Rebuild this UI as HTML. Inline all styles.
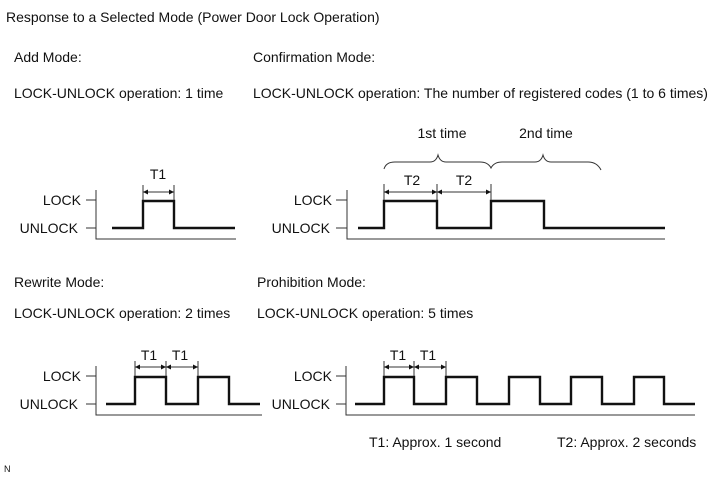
<!DOCTYPE html>
<html><head><meta charset="utf-8"><style>
html,body{margin:0;padding:0;background:#fff}
svg{display:block}
text{font-family:"Liberation Sans",Arial,sans-serif;font-size:14px;fill:#111}
.s{stroke:#111;stroke-width:2.4;fill:none;stroke-linejoin:miter}
.a{stroke:#333;stroke-width:1;fill:none}
</style></head><body>
<svg width="711" height="479" viewBox="0 0 711 479" xmlns="http://www.w3.org/2000/svg">
<defs>
<marker id="ar" viewBox="0 0 10 10" refX="10" refY="5" markerWidth="7" markerHeight="5" orient="auto-start-reverse" markerUnits="userSpaceOnUse"><path d="M0,0 L10,5 L0,10 z" fill="#111"/></marker>
</defs>
<text x="6" y="22">Response to a Selected Mode (Power Door Lock Operation)</text>
<text x="14" y="62">Add Mode:</text>
<text x="14" y="98">LOCK-UNLOCK operation: 1 time</text>
<text x="253" y="62">Confirmation Mode:</text>
<text x="253" y="98">LOCK-UNLOCK operation: The number of registered codes (1 to 6 times)</text>
<text x="14" y="287">Rewrite Mode:</text>
<text x="14" y="318">LOCK-UNLOCK operation: 2 times</text>
<text x="257" y="287">Prohibition Mode:</text>
<text x="257" y="318">LOCK-UNLOCK operation: 5 times</text>

<!-- Add mode -->
<g>
<text x="81" y="205" text-anchor="end">LOCK</text>
<text x="78" y="233" text-anchor="end">UNLOCK</text>
<path class="a" d="M86,200H96 M86,228H96 M96,190V239H236"/>
<path class="s" d="M112,228H143V201H174V228H235"/>
<path class="a" d="M143,185V200 M174,185V200"/>
<line class="a" x1="143" y1="192" x2="174" y2="192" marker-start="url(#ar)" marker-end="url(#ar)"/>
<text x="158" y="179" text-anchor="middle">T1</text>
</g>

<!-- Confirmation -->
<g>
<text x="332" y="205" text-anchor="end">LOCK</text>
<text x="330" y="233" text-anchor="end">UNLOCK</text>
<path class="a" d="M336,200H347 M336,228H347 M347,190V239H665"/>
<path class="s" d="M358,228H384V201H437V228H491V201H544V228H665"/>
<path class="a" d="M384,184V200 M437,184V200 M491,184V200"/>
<line class="a" x1="384" y1="192" x2="437" y2="192" marker-start="url(#ar)" marker-end="url(#ar)"/>
<line class="a" x1="437" y1="192" x2="491" y2="192" marker-start="url(#ar)" marker-end="url(#ar)"/>
<text x="412" y="185" text-anchor="middle">T2</text>
<text x="464" y="185" text-anchor="middle">T2</text>
<path class="a" d="M384,169 Q386,162 395,162 H430 Q436,162 438,155 Q440,162 446,162 H480 Q488,162 491,168 Q494,162 502,162 H535 Q541,162 543,155 Q545,162 551,162 H588 Q597,162 601,170"/>
<text x="442" y="138" text-anchor="middle">1st time</text>
<text x="546" y="138" text-anchor="middle">2nd time</text>
</g>

<!-- Rewrite -->
<g>
<text x="81" y="381" text-anchor="end">LOCK</text>
<text x="78" y="409" text-anchor="end">UNLOCK</text>
<path class="a" d="M86,376H96 M86,404H96 M96,366V415H262"/>
<path class="s" d="M106,404H135V377H166V404H198V377H229V404H260"/>
<path class="a" d="M135,361V376 M166,361V376 M198,361V376"/>
<line class="a" x1="135" y1="367" x2="166" y2="367" marker-start="url(#ar)" marker-end="url(#ar)"/>
<line class="a" x1="166" y1="367" x2="198" y2="367" marker-start="url(#ar)" marker-end="url(#ar)"/>
<text x="149" y="360" text-anchor="middle">T1</text>
<text x="180" y="360" text-anchor="middle">T1</text>
</g>

<!-- Prohibition -->
<g>
<text x="332" y="381" text-anchor="end">LOCK</text>
<text x="330" y="409" text-anchor="end">UNLOCK</text>
<path class="a" d="M336,376H346 M336,404H346 M346,366V415H695"/>
<path class="s" d="M355,404H384V377H414V404H446V377H477V404H509V377H540V404H571V377H602V404H634V377H664V404H695"/>
<path class="a" d="M384,361V376 M414,361V376 M446,361V376"/>
<line class="a" x1="384" y1="367" x2="414" y2="367" marker-start="url(#ar)" marker-end="url(#ar)"/>
<line class="a" x1="414" y1="367" x2="446" y2="367" marker-start="url(#ar)" marker-end="url(#ar)"/>
<text x="398" y="360" text-anchor="middle">T1</text>
<text x="428" y="360" text-anchor="middle">T1</text>
</g>

<text x="369" y="447">T1: Approx. 1 second</text>
<text x="557" y="447">T2: Approx. 2 seconds</text>
<text x="4" y="472" style="font-size:9px">N</text>
</svg>
</body></html>
